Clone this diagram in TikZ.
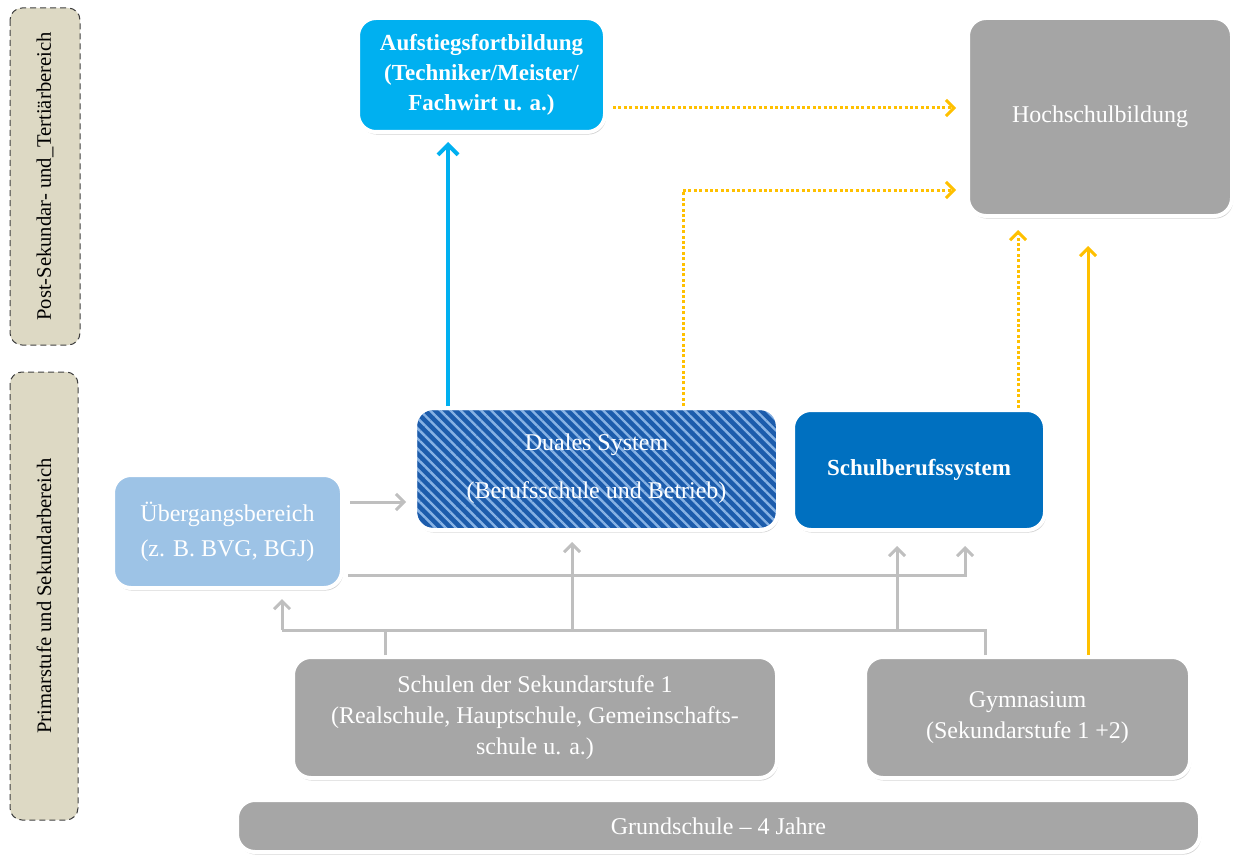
\documentclass[tikz,border=0pt]{standalone}
\usepackage{fontspec}
\setmainfont{Liberation Serif}
\usetikzlibrary{arrows.meta,shadows,patterns.meta}
\definecolor{cyanbox}{RGB}{0,176,240}
\definecolor{hsgray}{RGB}{165,165,165}
\definecolor{schulblue}{RGB}{0,112,192}
\definecolor{dualblue}{RGB}{28,92,172}
\definecolor{stripeblue}{RGB}{135,178,228}
\definecolor{uebblue}{RGB}{157,195,230}
\definecolor{boxgray}{RGB}{166,166,166}
\definecolor{lblbeige}{RGB}{221,217,196}
\definecolor{orangeln}{RGB}{255,192,0}
\definecolor{linegray}{RGB}{191,191,191}
\tikzset{
    box/.style={rounded corners=9pt, draw=white, line width=2pt, text=white,
        align=center, inner sep=0pt, font=\fontsize{12}{15.5}\selectfont,
        drop shadow={shadow xshift=0.6pt, shadow yshift=-1.3pt, opacity=0.35}},
    sidelbl/.style={rounded corners=6pt, draw=black!75, densely dashed,
        line width=0.5pt, fill=lblbeige, rotate=90, inner sep=0pt,
        font=\fontsize{10.3}{12}\selectfont},
    grayline/.style={draw=linegray, line width=1.5pt},
    grayarr/.style={grayline, -{Straight Barb[length=4pt,width=8pt]}},
    orgarr/.style={draw=orangeln, line width=1.5pt,
        -{Straight Barb[length=4pt,width=8pt]}},
    orgdot/.style={orgarr, dash pattern=on 1.5pt off 1.2pt},
    bluearr/.style={draw=cyanbox, line width=2pt,
        -{Straight Barb[length=5pt,width=10pt]}}
}
\begin{document}
\begin{tikzpicture}[x=0.5pt, y=-0.5pt]
    \useasboundingbox (0,0) rectangle (1237,856);
    \node[sidelbl, minimum width=168.5pt, minimum height=35pt] (postlbl)
        at (45,176.5) {Post-Sekundar- und\_Tertiärbereich};
    \node[sidelbl, minimum width=224pt, minimum height=34pt] (primlbl)
        at (44,596) {Primarstufe und Sekundarbereich};
    \node[box, fill=cyanbox, minimum width=123.5pt, minimum height=57pt,
        font=\fontsize{11.5}{15}\selectfont\bfseries] (aufst) at (481.5,75)
        {Aufstiegsfortbildung\\(Techniker/Meister/\\Fachwirt u. a.)};
    \node[box, fill=hsgray, minimum width=132pt, minimum height=99pt]
        (hoch) at (1100,117) {Hochschulbildung};
    \node[box, fill=dualblue, minimum width=181.5pt, minimum height=61pt,
        postaction={pattern={Lines[angle=-45,distance=3.6pt,line width=1.2pt]},
            pattern color=stripeblue},
        postaction={draw=white, line width=2pt}]
        (duales) at (596.5,469) {Duales System\\[8.5pt](Berufsschule und Betrieb)};
    \node[box, fill=schulblue, minimum width=126pt, minimum height=60pt,
        font=\fontsize{11.5}{15}\selectfont\bfseries] (schulb) at (919,470)
        {Schulberufssystem};
    \node[box, fill=uebblue, minimum width=114.5pt, minimum height=56.5pt]
        (ueberg) at (227.5,531.5) {Übergangsbereich\\[2pt](z. B. BVG, BGJ)};
    \node[box, fill=boxgray, minimum width=242pt, minimum height=60.5pt]
        (sek) at (535,717.5) {Schulen der Sekundarstufe 1\\(Realschule,
        Hauptschule, Gemeinschafts-\\schule u. a.)};
    \node[box, fill=boxgray, minimum width=162.5pt, minimum height=60.5pt]
        (gym) at (1027.5,717.5) {Gymnasium\\(Sekundarstufe 1 +2)};
    \node[box, fill=boxgray, minimum width=481.5pt, minimum height=26pt]
        (grund) at (718.5,826) {Grundschule – 4 Jahre};
    % upward paths
    \draw[bluearr, shorten >=4pt] ([xshift=17.5pt]duales.north west)
        -- ([xshift=17.5pt]duales.north west |- aufst.south);
    \draw[orgdot, shorten <=3pt, shorten >=5pt] ([yshift=-16.5pt]aufst.east)
        -- ([yshift=-16.5pt]aufst.east -| hoch.west);
    \draw[orgdot, shorten >=5pt] ([xshift=43.25pt]duales.north)
        |- ([yshift=-36.5pt]hoch.west);
    \draw[orgdot, shorten >=6pt] ([xshift=49.5pt]schulb.north)
        -- ([xshift=49.5pt]schulb.north |- hoch.south);
    \draw[orgarr, shorten >=14pt] ([xshift=30.25pt]gym.north)
        -- ([xshift=30.25pt]gym.north |- hoch.south);
    % gray paths
    \draw[grayarr, shorten <=3pt, shorten >=3.5pt] ([yshift=14.75pt]ueberg.east)
        -- ([yshift=14.75pt]ueberg.east -| duales.west);
    \draw[grayarr, shorten <=2pt, shorten >=7pt] ([yshift=-21.75pt]ueberg.east)
        -| ([xshift=23pt]schulb.south);
    \draw[grayline] ([xshift=-75pt]sek.north) -- ++(0,-25) coordinate (hub);
    \draw[grayline] ([xshift=-21.25pt]gym.north)
        |- ([xshift=27.25pt]ueberg.south |- hub);
    \draw[grayarr, shorten >=4.5pt] ([xshift=27.25pt]ueberg.south |- hub)
        -- ([xshift=27.25pt]ueberg.south);
    \draw[grayarr, shorten >=5pt] ([xshift=-12.25pt]duales.south |- hub)
        -- ([xshift=-12.25pt]duales.south);
    \draw[grayarr, shorten >=7pt] ([xshift=-11pt]schulb.south |- hub)
        -- ([xshift=-11pt]schulb.south);
\end{tikzpicture}
\end{document}
